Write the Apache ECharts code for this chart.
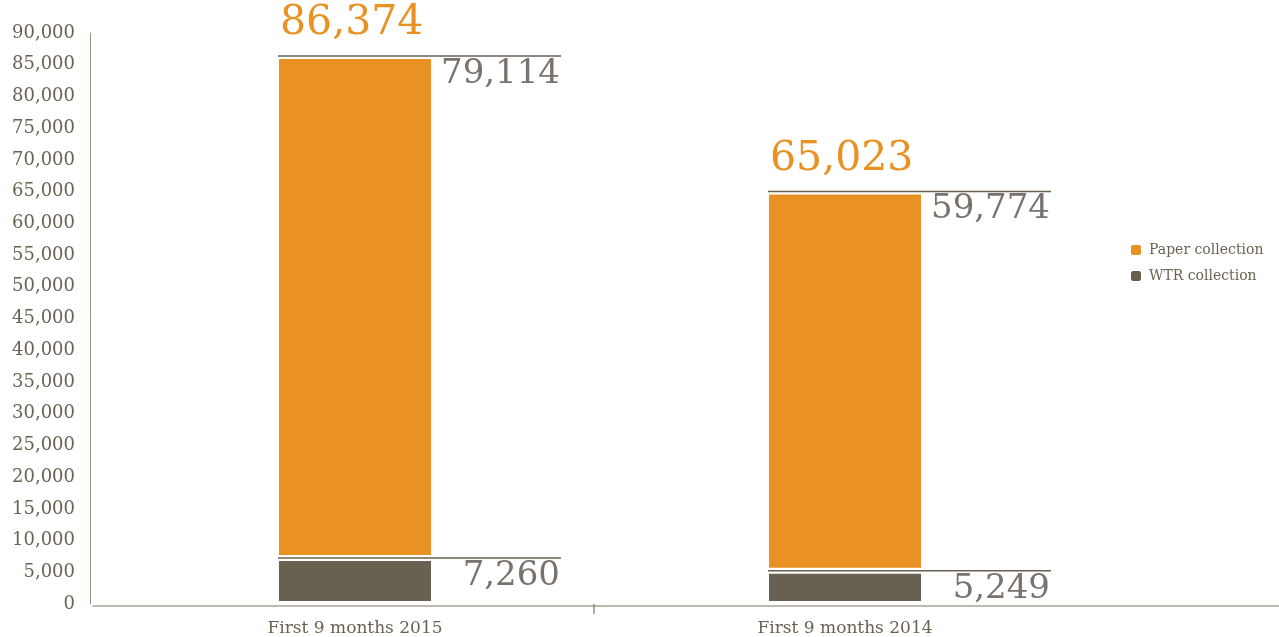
<!DOCTYPE html>
<html>
<head>
<meta charset="utf-8">
<script src="https://cdn.jsdelivr.net/npm/echarts@6/dist/echarts.min.js"></script>
<style>
html,body{margin:0;padding:0;background:#fff;}
#chart{width:1279px;height:637px;}
</style>
</head>
<body>
<div id="chart"></div>
<script>
const categories = ['First 9 months 2015', 'First 9 months 2014'];
const wtrValues = [7260, 5249];
const paperValues = [79114, 59774];
const totalValues = [86374, 65023];
const yMin = 0, yMax = 90000, yStep = 5000;

const ORANGE = '#e99122';
const DARK = '#686050';
const TEXT = '#6b6352';
const GRAY = '#7a726c';
const LINE = '#6b6052';
const FONT = '"DejaVu Serif", "Liberation Serif", serif';
const fmt = v => Number(v).toLocaleString('en-US');

const chart = echarts.init(document.getElementById('chart'), null, {renderer: 'canvas'});

const annData = categories.map((c, i) => [i, wtrValues[i], totalValues[i], paperValues[i]]);

function renderAnn(params, api) {
  const i = api.value(0), w = api.value(1), t = api.value(2), p = api.value(3);
  const xc = api.coord([i, 0])[0];
  const yBase = api.coord([i, 0])[1];
  const band = api.size([1, 0])[0];
  const yT = api.coord([i, t])[1];
  const yW = api.coord([i, w])[1];
  const x0 = xc - 77, x1 = xc + 206;
  const children = [
    {type: 'line', shape: {x1: x0, y1: yT, x2: x1, y2: yT}, style: {stroke: LINE, lineWidth: 1.5}},
    {type: 'line', shape: {x1: x0, y1: yW, x2: x1, y2: yW}, style: {stroke: LINE, lineWidth: 1.5}},
    {type: 'text', x: xc - 75, y: yT - 12, style: {text: fmt(t), fill: ORANGE, font: '41px ' + FONT, textAlign: 'left', textVerticalAlign: 'bottom'}},
    {type: 'text', x: xc + 205, y: yT + 1, style: {text: fmt(p), fill: GRAY, font: '34px ' + FONT, textAlign: 'right', textVerticalAlign: 'top'}},
    {type: 'text', x: xc + 205, y: yW + 1, style: {text: fmt(w), fill: GRAY, font: '34px ' + FONT, textAlign: 'right', textVerticalAlign: 'top'}}
  ];
  if (i === 0) {
    const xt = xc + band / 2 - 6;
    children.push({type: 'line', shape: {x1: xt, y1: yBase, x2: xt, y2: yBase + 10}, style: {stroke: '#6b6052', lineWidth: 1}});
  }
  return {type: 'group', children};
}

const option = {
  backgroundColor: '#ffffff',
  animation: false,
  grid: {left: 110, right: 189, top: 33, bottom: 33},
  legend: {
    orient: 'vertical', left: 1124, top: 238,
    itemWidth: 12, itemHeight: 12, itemGap: 12,
    icon: 'roundRect',
    data: ['Paper collection', 'WTR collection'],
    textStyle: {fontFamily: FONT, fontSize: 14, color: TEXT, padding: [0, 0, 0, 2]}
  },
  xAxis: {
    type: 'category', data: categories,
    axisLine: {show: false},
    axisTick: {show: false},
    axisLabel: {fontFamily: FONT, fontSize: 17, color: TEXT, margin: 16}
  },
  yAxis: {
    type: 'value', min: yMin, max: yMax, interval: yStep, offset: 20,
    axisLine: {show: true, lineStyle: {color: '#9b9485', width: 1}},
    axisTick: {show: false},
    splitLine: {show: false},
    axisLabel: {fontFamily: FONT, fontSize: 18, color: TEXT, margin: 15, formatter: v => fmt(v)}
  },
  graphic: [{
    type: 'line', left: 90, top: 603.5,
    shape: {x1: 0, y1: 0, x2: 1189, y2: 0},
    style: {stroke: '#aaa395', lineWidth: 1.5}, silent: true
  }],
  series: [
    {
      name: 'WTR collection', type: 'bar', stack: 'total', data: wtrValues, barWidth: 158,
      itemStyle: {color: DARK, borderColor: '#ffffff', borderWidth: 3}
    },
    {
      name: 'Paper collection', type: 'bar', stack: 'total', data: paperValues, barWidth: 158,
      itemStyle: {color: ORANGE, borderColor: '#ffffff', borderWidth: 3}
    },
    {
      type: 'custom', renderItem: renderAnn, data: annData,
      encode: {x: 0, y: 2}, silent: true, z: 10, legendHoverLink: false
    }
  ]
};
chart.setOption(option);
</script>
</body>
</html>
